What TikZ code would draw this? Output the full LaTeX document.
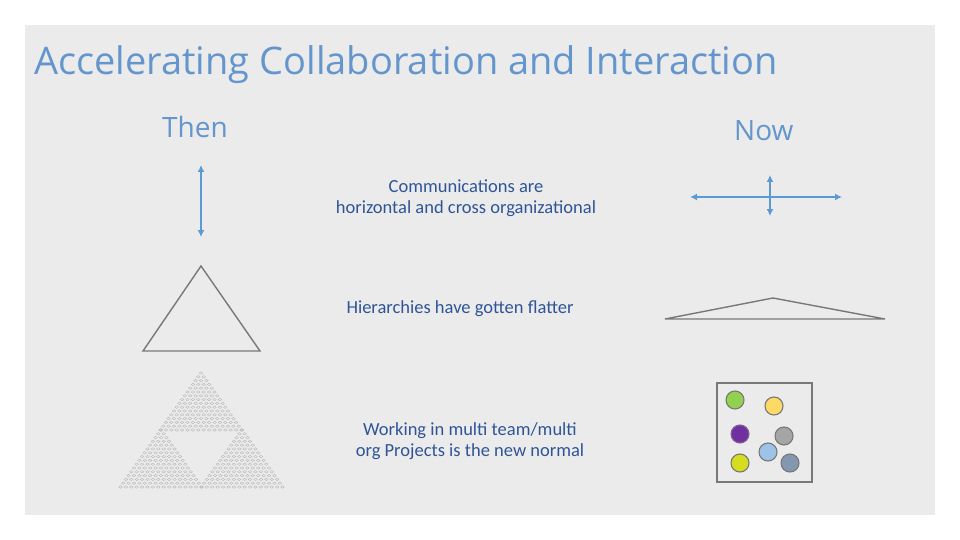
\documentclass[tikz,border=0pt]{standalone}
\usepackage{fontspec}
\setmainfont{Carlito}
\newfontfamily\titlefont{Open Sans}
\usetikzlibrary{arrows.meta}
\definecolor{ablue}{RGB}{91,155,213}
\definecolor{lgray}{RGB}{120,120,120}
\definecolor{midblue}{RGB}{47,85,151}
\definecolor{hdblue}{RGB}{100,150,205}
\definecolor{bg}{RGB}{235,235,235}
\definecolor{sgray}{RGB}{180,180,180}
\definecolor{c1}{RGB}{146,208,80}
\definecolor{c2}{RGB}{255,217,102}
\definecolor{c3}{RGB}{112,48,160}
\definecolor{c3d}{RGB}{130,100,150}
\definecolor{c4}{RGB}{165,165,165}
\definecolor{c5}{RGB}{157,195,230}
\definecolor{c6}{RGB}{214,220,30}
\definecolor{c7}{RGB}{132,151,176}
\begin{document}
\begin{tikzpicture}[x=1pt,y=-1pt,
  arr/.style={draw=ablue,line width=2.4pt,{Latex[length=7pt,width=7pt]}-{Latex[length=7pt,width=7pt]}},
  gl/.style={draw=lgray,line width=1.4pt},
  mid/.style={text=midblue,font=\fontsize{18.5}{21}\selectfont,align=center},
  hd/.style={text=hdblue,font=\titlefont\fontsize{28}{32}\selectfont,anchor=base west,inner sep=0pt},
  dot/.style={circle,minimum size=18pt,inner sep=0pt,draw=lgray,line width=1.1pt}]
\useasboundingbox (0,0) rectangle (960,540);
\fill[white] (0,0) rectangle (960,540);
\fill[bg] (25,25) rectangle (935,515);
\node[hd,font=\titlefont\fontsize{38}{42}\selectfont] (title) at (34,75) {Accelerating Collaboration and Interaction};
\node[hd] (then) at (162,138) {Then};
\node[hd] (now) at (734,141) {Now};
\coordinate (a1) at (201,165); \coordinate (a2) at (201,237);
\draw[arr] (a1) -- (a2);
\coordinate (h1) at (690,197); \coordinate (h2) at (842,197);
\coordinate (v1) at (770,175); \coordinate (v2) at (770,216);
\draw[arr] (h1) -- (h2); \draw[arr] (v1) -- (v2);
\draw[gl] (201,266) -- (143,351) -- (260,351) -- cycle;
\draw[gl] (665,319) -- (773,298) -- (885,319) -- cycle;
\node[mid] (t1) at (466,198) {Communications are\\horizontal and cross organizational};
\node[mid] (t2) at (460,309) {Hierarchies have gotten flatter};
\node[mid] (t3) at (470,441) {Working in multi team/multi\\org Projects is the new normal};
\foreach \ax/\ay in {201/373,161/430,242/430}{
  \foreach \i in {0,...,15}{
    \foreach \j in {0,...,\i}{
      \draw[sgray,line width=0.35pt]
        ({\ax-\i*2.7+\j*5.4},{\ay+\i*3.8}) ellipse (1.8 and 1.3);
    }
  }
}
\draw[gl] (717,383) rectangle (812,482);
\node[dot,fill=c1] (d1) at (735,400) {};
\node[dot,fill=c2] (d2) at (774,406) {};
\node[dot,fill=c3,draw=c3d] (d3) at (740,434) {};
\node[dot,fill=c4] (d4) at (784,436) {};
\node[dot,fill=c5] (d5) at (768,452) {};
\node[dot,fill=c6] (d6) at (740,463) {};
\node[dot,fill=c7] (d7) at (790,463) {};
\end{tikzpicture}
\end{document}
